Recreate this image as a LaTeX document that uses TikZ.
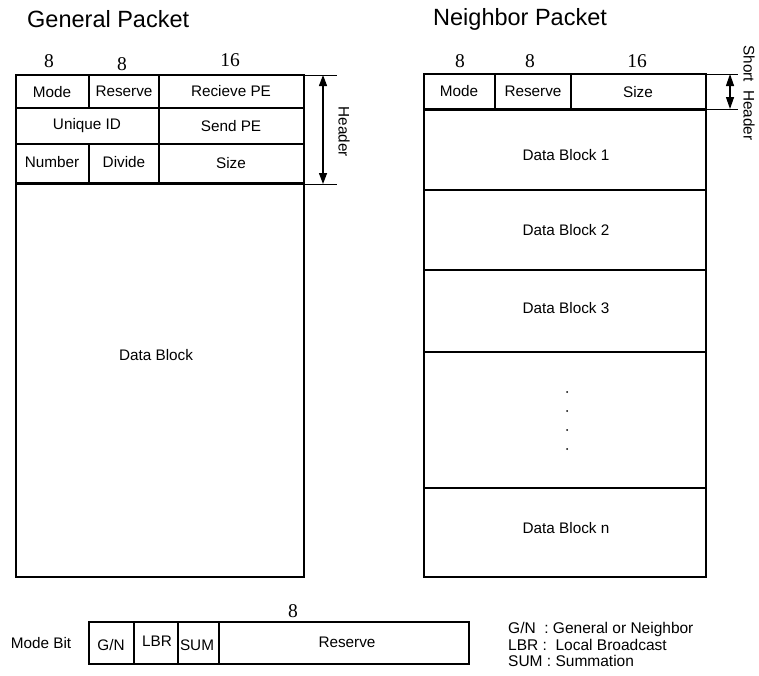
\documentclass[tikz,border=0pt]{standalone}
\usepackage{fontspec}
\setmainfont{Liberation Sans}
\newfontfamily\serifnum{Liberation Serif}
\usetikzlibrary{arrows.meta}
\begin{document}
\begin{tikzpicture}[x=1pt,y=-1pt,
 box/.style={draw,line width=1.1pt},
 lbl/.style={font=\fontsize{15.3}{17}\selectfont, inner sep=0},
 num/.style={font=\serifnum\fontsize{19.5}{21}\selectfont, inner sep=0},
 ttl/.style={font=\fontsize{23.5}{27}\selectfont, inner sep=0, anchor=west},
 dimline/.style={line width=0.7pt},
 dimarrow/.style={line width=1.3pt, {Triangle[length=11pt,width=8pt]}-{Triangle[length=11pt,width=8pt]}},
 sdimarrow/.style={line width=1.3pt, {Triangle[length=12pt,width=8pt]}-{Triangle[length=12pt,width=8pt]}},
 heavy/.style={line width=3pt},
 legend/.style={font=\fontsize{15.5}{17}\selectfont, inner sep=0, anchor=west}
]
\useasboundingbox (0,0) rectangle (759,675);

% ---------- General Packet ----------
\node[ttl] (gtitle) at (27,19) {General Packet};
\node[num] (gn1) at (49,61) {8};
\node[num] (gn2) at (122,64) {8};
\node[num] (gn3) at (230,60) {16};

\draw[box] (16,75) rectangle (304,577);
\draw[box] (16,108) -- (304,108);
\draw[box] (16,144) -- (304,144);
\draw[box] (89,75) -- (89,108);
\draw[box] (159,75) -- (159,183);
\draw[box] (89,144) -- (89,183);
\draw[heavy] (16,183) -- (304,183);

\node[lbl] (gmode) at (52,92) {Mode};
\node[lbl] (gres) at (124,91) {Reserve};
\node[lbl] (grecv) at (231,91) {Recieve PE};
\node[lbl] (guid) at (87,126) {Unique ID};
\node[lbl] (gsend) at (231,126) {Send PE};
\node[lbl] (gnum) at (52,162) {Number};
\node[lbl] (gdiv) at (124,162) {Divide};
\node[lbl] (gsize) at (231,163) {Size};
\node[lbl] (gdata) at (156,355) {Data Block};

\coordinate (ht) at (323,75);
\coordinate (hb) at (323,184);
\draw[dimline] (304,75) -- (337,75);
\draw[dimline] (304,184) -- (337,184);
\draw[dimarrow] (ht) -- (hb);
\node[lbl, rotate=-90] (hdr) at (344,132) {Header};

% ---------- Neighbor Packet ----------
\node[ttl] (ntitle) at (433,19) {Neighbor Packet};
\node[num] (nn1) at (460,61) {8};
\node[num] (nn2) at (530,61) {8};
\node[num] (nn3) at (637,61) {16};

\draw[box] (424,74) rectangle (706,577);
\draw[box] (495,74) -- (495,109);
\draw[box] (571,74) -- (571,109);
\draw[heavy] (424,109) -- (706,109);
\draw[box] (424,190) -- (706,190);
\draw[box] (424,270) -- (706,270);
\draw[box] (424,352) -- (706,352);
\draw[box] (424,488) -- (706,488);

\node[lbl] (nmode) at (459,91) {Mode};
\node[lbl] (nres) at (533,91) {Reserve};
\node[lbl] (nsize) at (638,92) {Size};
\node[lbl] (nd1) at (566,155) {Data Block 1};
\node[lbl] (nd2) at (566,230) {Data Block 2};
\node[lbl] (nd3) at (566,308) {Data Block 3};
\node[lbl] (ndn) at (566,528) {Data Block n};
\foreach \yy in {392,411,430,449} \fill (567,\yy) circle (1pt);

\coordinate (st) at (730,74);
\coordinate (sb) at (730,109);
\draw[dimline] (706,74) -- (738,74);
\draw[dimline] (706,109) -- (738,109);
\draw[sdimarrow] (st) -- (sb);
\node[lbl, rotate=-90] (shdr) at (749,93) {Short\hspace{8pt}Header};

% ---------- Mode Bit ----------
\node[lbl] (mbit) at (41,643) {Mode Bit};
\node[num] (mn) at (293,611) {8};
\draw[box] (89,622) rectangle (469,664);
\draw[box] (134,622) -- (134,664);
\draw[box] (178,622) -- (178,664);
\draw[box] (219,622) -- (219,664);
\node[lbl] (mgn) at (111,645) {G/N};
\node[lbl] (mlbr) at (157,641) {LBR};
\node[lbl] (msum) at (197,645) {SUM};
\node[lbl] (mres) at (347,642) {Reserve};

\node[legend] (lg1) at (508,629) {G/N\ \ : General or Neighbor};
\node[legend] (lg2) at (508,645) {LBR :\ \ Local Broadcast};
\node[legend] (lg3) at (508,661) {SUM : Summation};
\end{tikzpicture}
\end{document}
